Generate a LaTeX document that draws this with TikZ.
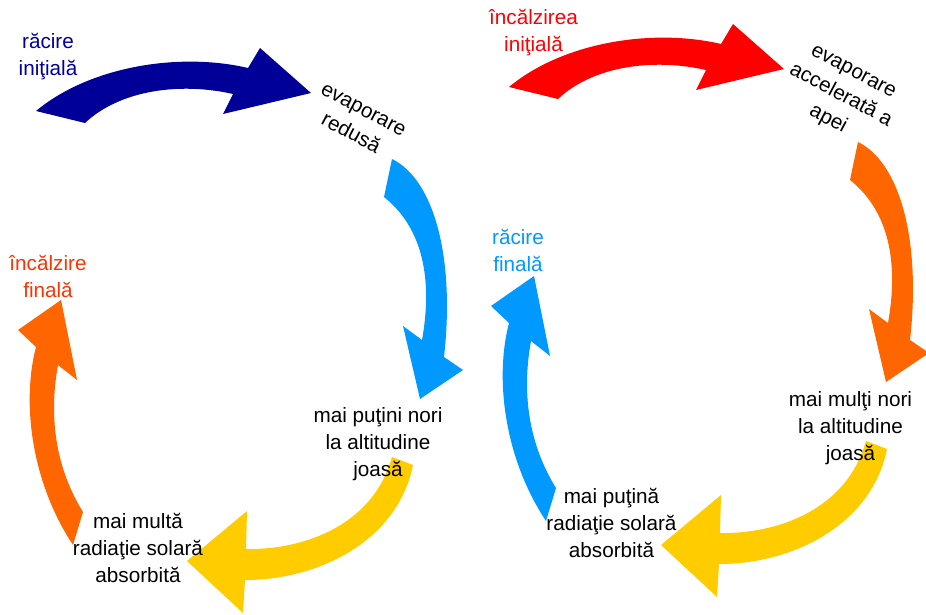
\documentclass[tikz,border=0pt]{standalone}
\usepackage{fontspec}
\setmainfont{Liberation Sans}
\definecolor{navyc}{RGB}{0,0,153}
\definecolor{skyc}{RGB}{0,153,255}
\definecolor{goldc}{RGB}{255,204,0}
\definecolor{orangec}{RGB}{255,102,0}
\definecolor{redc}{RGB}{255,0,0}
\definecolor{orangeredc}{RGB}{255,51,0}
\tikzset{
  lbl/.style={font=\fontsize{20.7}{27}\selectfont, align=center, inner sep=0pt, anchor=base},
  rlbl/.style={font=\fontsize{20.7}{27}\selectfont, align=center, inner sep=0pt, anchor=center, rotate=-28},
}
% curved block arrows (coordinates in pixels, y downwards)
\newcommand\ArrTop[1]{\fill[#1] (36,111) .. controls (90,66) and (180,52) .. (248,68) -- (260,48) -- (311,93) -- (223,114) -- (233,94) .. controls (180,82) and (120,90) .. (85,123) -- cycle;}
\newcommand\ArrRight[1]{\fill[#1] (392,159) .. controls (435,180) and (455,260) .. (444,357) -- (463,370) -- (420,399) -- (403,326) -- (422,340) .. controls (431,290) and (428,232) .. (384,197) -- cycle;}
\newcommand\ArrBottom[1]{\fill[#1] (413,465) .. controls (398,540) and (320,580) .. (245,580) -- (243,613) -- (187,561) -- (247,511) -- (246,549) .. controls (300,550) and (372,528) .. (392,457) -- cycle;}
\newcommand\ArrLeft[1]{\fill[#1] (73,545) .. controls (30,480) and (22,400) .. (36,347) -- (18,330) -- (61,300) -- (77,380) -- (58,365) .. controls (48,420) and (57,470) .. (83,512) -- cycle;}
\begin{document}
\begin{tikzpicture}[x=1pt,y=-1pt]
\useasboundingbox (0,0) rectangle (926,615);
% left cycle
\ArrTop{navyc}
\ArrRight{skyc}
\ArrBottom{goldc}
\ArrLeft{orangec}
% right cycle
\begin{scope}[shift={(473,-24)}]\ArrTop{redc}\end{scope}
\begin{scope}[shift={(466,-17)}]\ArrRight{orangec}\end{scope}
\begin{scope}[shift={(474,-16)}]\ArrBottom{goldc}\end{scope}
\begin{scope}[shift={(473,-24)}]\ArrLeft{skyc}\end{scope}
% labels left
\node[lbl, text=navyc] (rinit) at (48,76) {răcire\\iniţială};
\node[rlbl] (evred) at (357,122) {evaporare\\redusă};
\node[lbl] (nori1) at (378,476) {mai puţini nori\\la altitudine\\joasă};
\node[lbl] (rad1) at (138,582) {mai multă\\radiaţie solară\\absorbită};
\node[lbl, text=orangeredc] (incf) at (48,297) {încălzire\\finală};
% labels right
\node[lbl, text=redc] (incinit) at (533.5,52) {încălzirea\\iniţială};
\node[rlbl] (evacc) at (840,97) {evaporare\\accelerată a\\apei};
\node[lbl] (nori2) at (850.5,460) {mai mulţi nori\\la altitudine\\joasă};
\node[lbl] (rad2) at (611.5,557) {mai puţină\\radiaţie solară\\absorbită};
\node[lbl, text=skyc] (rfin) at (518,271) {răcire\\finală};
\end{tikzpicture}
\end{document}
